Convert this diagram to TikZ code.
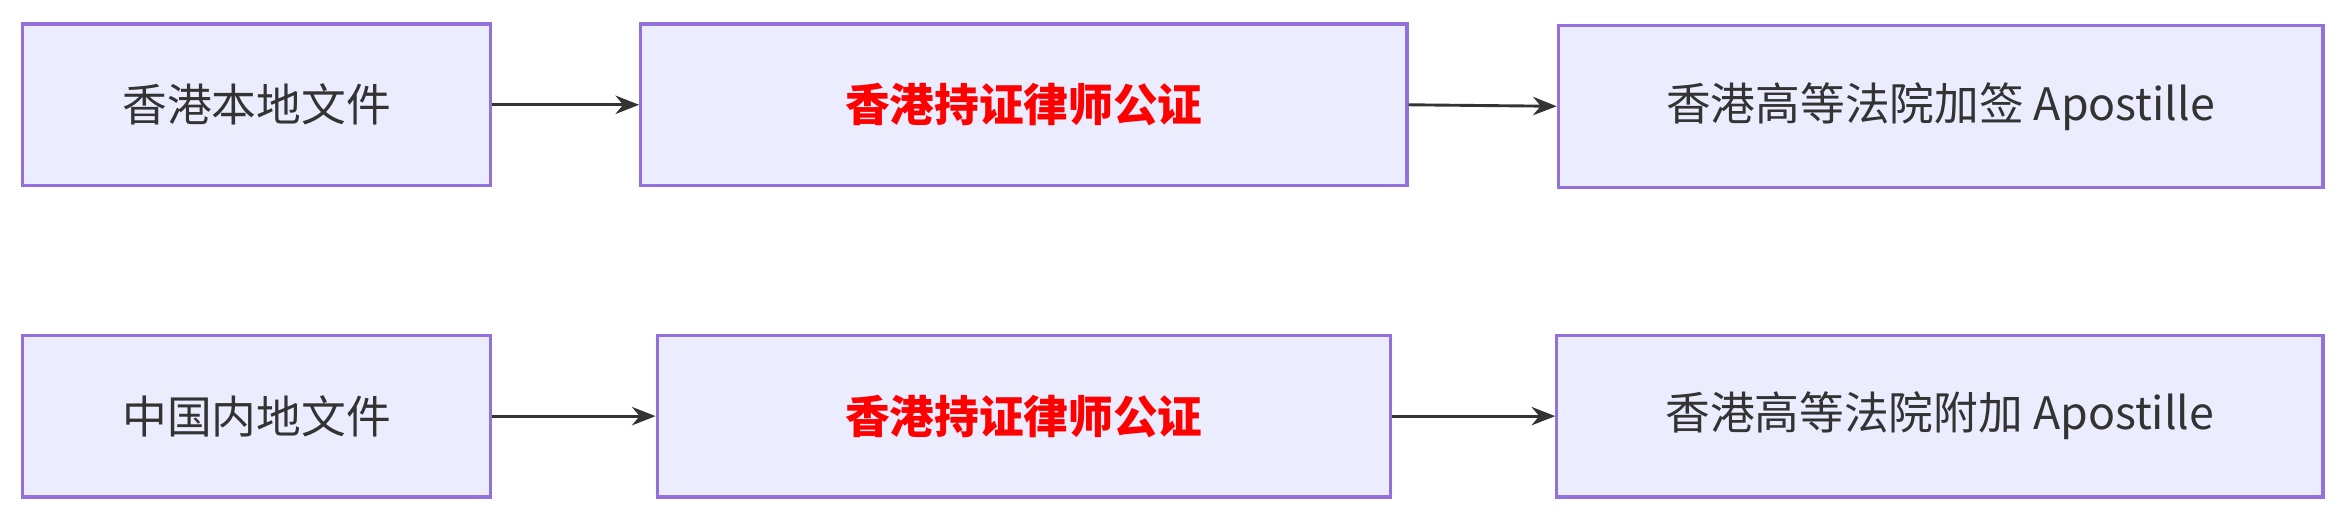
\documentclass[tikz,border=0pt]{standalone}
\usepackage{fontspec}
\setmainfont{Noto Sans CJK SC}
\usepackage{tikz}
\usetikzlibrary{positioning,arrows.meta}
\definecolor{boxfill}{HTML}{ECECFF}
\definecolor{boxline}{HTML}{9370DB}
\definecolor{arrowgray}{HTML}{333333}

\begin{document}
\begin{tikzpicture}[x=0.02cm, y=-0.02cm,
    stepbox/.style={rectangle, draw=boxline, fill=boxfill, line width=1.2pt, inner sep=0pt,
        minimum height=2.16cm, font=\fontsize{17}{20}\selectfont, text=black!80},
    notary/.style={stepbox, text=red, font=\fontsize{17}{20}\selectfont\bfseries},
    flow/.style={-{Stealth[length=9pt, width=7pt]}, draw=arrowgray, line width=1.1pt}
    ]
        \useasboundingbox (0,0) rectangle (1568,349);
        %Nodes
        \node[stepbox, minimum width=6.26cm]
            (hkdoc)     at (171.5,70)   {香港本地文件};
        \node[notary, minimum width=10.24cm]
            (hknot)     at (684,70)     {香港持证律师公证};
        \node[stepbox, minimum width=10.22cm]
            (hkapo)     at (1296.5,71)  {香港高等法院加签 Apostille};
        \node[stepbox, minimum width=6.26cm]
            (cndoc)     at (171.5,278)  {中国内地文件};
        \node[notary, minimum width=9.8cm]
            (cnnot)     at (684,278)    {香港持证律师公证};
        \node[stepbox, minimum width=10.24cm]
            (cnapo)     at (1296,278)   {香港高等法院附加 Apostille};

        %Lines
        \draw[flow] (hkdoc.east) -- (hknot.west);
        \draw[flow] (hknot.east) -- (hkapo.west);
        \draw[flow] (cndoc.east) -- (cnnot.west);
        \draw[flow] (cnnot.east) -- (cnapo.west);
    \end{tikzpicture}
\end{document}
